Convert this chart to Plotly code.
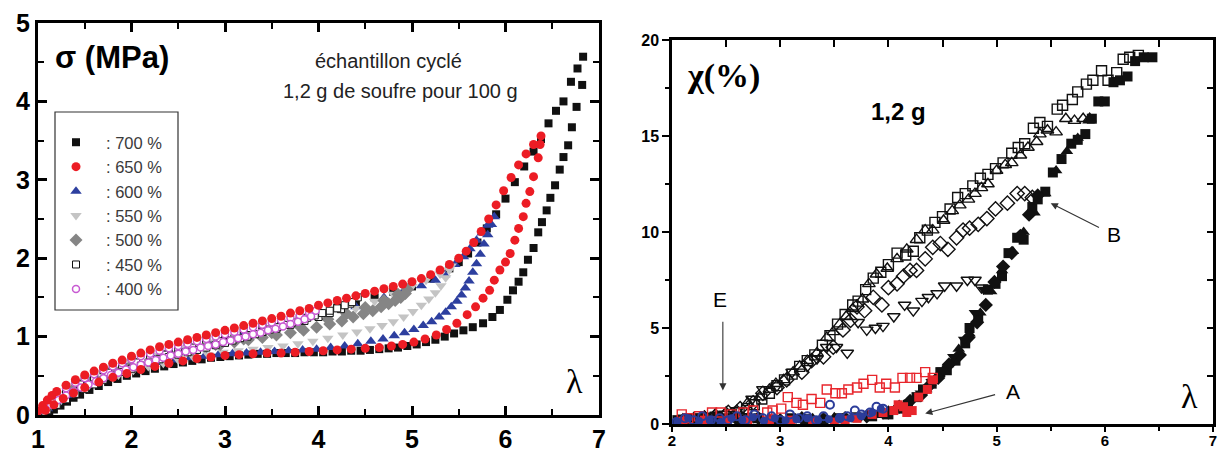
import plotly.graph_objects as go

W, H = 1221, 453

# ---------------- LEFT PANEL DATA (lambda, sigma MPa) ----------------
lam_700_up = [1.0,1.1,1.2,1.3,1.4,1.5,1.6,1.7,1.8,1.9,2.0,2.2,2.4,2.6,2.8,3.0,3.2,3.4,3.6,3.8,4.0,4.2,4.4,4.6,4.8,5.0,5.2,5.4,5.5,5.6,5.7,5.8,5.9,6.0,6.1,6.2,6.3,6.38,6.46,6.54,6.62,6.7,6.77,6.83]
sig_700_up = [0.0,0.14,0.25,0.33,0.4,0.46,0.52,0.57,0.62,0.66,0.7,0.78,0.85,0.91,0.97,1.02,1.07,1.12,1.18,1.24,1.3,1.37,1.44,1.5,1.57,1.64,1.74,1.87,1.95,2.06,2.2,2.38,2.56,2.76,2.97,3.17,3.36,3.52,3.72,3.88,4.0,4.25,4.42,4.57]
lam_700_dn = [6.82,6.76,6.71,6.67,6.62,6.58,6.53,6.48,6.44,6.39,6.35,6.3,6.24,6.19,6.14,6.08,6.02,5.94,5.86,5.76,5.65,5.55,5.45,5.35,5.25,5.15,5.05,4.95,4.85,4.75,4.65,4.55,4.45,4.35,4.25,4.15,4.05,3.95,3.85,3.75,3.65,3.55,3.45,3.35,3.25,3.15,3.05,2.95,2.85,2.75,2.65,2.55,2.45,2.35,2.25,2.15,2.05,1.95,1.85,1.75,1.65,1.55,1.45,1.38,1.31,1.24,1.17,1.12]
sig_700_dn = [4.21,3.93,3.67,3.44,3.29,3.13,2.93,2.77,2.61,2.46,2.33,2.13,1.98,1.82,1.7,1.59,1.47,1.34,1.25,1.17,1.12,1.08,1.04,1.0,0.96,0.93,0.9,0.88,0.86,0.85,0.84,0.83,0.82,0.82,0.81,0.81,0.8,0.8,0.8,0.79,0.79,0.79,0.78,0.78,0.77,0.76,0.75,0.74,0.73,0.71,0.69,0.67,0.65,0.62,0.59,0.56,0.53,0.5,0.46,0.42,0.37,0.32,0.26,0.22,0.17,0.12,0.07,0.03]

lam_650_up = [1.0,1.05,1.1,1.15,1.2,1.3,1.4,1.5,1.6,1.7,1.8,1.9,2.0,2.1,2.2,2.3,2.4,2.5,2.6,2.7,2.8,2.9,3.0,3.1,3.2,3.3,3.4,3.5,3.6,3.7,3.8,3.9,4.0,4.1,4.2,4.3,4.4,4.5,4.6,4.7,4.8,4.9,5.0,5.1,5.2,5.3,5.4,5.5,5.58,5.66,5.74,5.82,5.9,5.98,6.06,6.14,6.22,6.3,6.38]
sig_650_up = [0.05,0.12,0.19,0.25,0.3,0.38,0.45,0.51,0.56,0.61,0.66,0.7,0.75,0.79,0.83,0.87,0.9,0.93,0.96,0.99,1.02,1.05,1.08,1.11,1.14,1.17,1.2,1.23,1.26,1.3,1.33,1.36,1.4,1.43,1.46,1.49,1.52,1.55,1.58,1.61,1.64,1.67,1.7,1.74,1.79,1.85,1.92,2.0,2.09,2.2,2.34,2.5,2.68,2.86,3.03,3.19,3.33,3.45,3.56]
lam_650_dn = [6.37,6.35,6.3,6.26,6.22,6.19,6.14,6.1,6.05,6.0,5.94,5.88,5.83,5.76,5.68,5.59,5.48,5.37,5.26,5.14,5.02,4.9,4.78,4.65,4.5,4.35,4.2,4.05,3.9,3.75,3.6,3.45,3.3,3.15,3.0,2.85,2.7,2.55,2.4,2.25,2.1,1.95,1.8,1.65,1.5,1.38,1.27,1.17,1.08]
sig_650_dn = [3.45,3.28,3.04,2.85,2.7,2.53,2.38,2.23,2.06,1.95,1.85,1.72,1.59,1.49,1.38,1.28,1.17,1.09,1.02,0.97,0.93,0.9,0.88,0.86,0.85,0.84,0.83,0.82,0.81,0.8,0.79,0.79,0.78,0.77,0.76,0.74,0.72,0.69,0.66,0.62,0.58,0.53,0.48,0.42,0.35,0.28,0.21,0.13,0.06]

lam_600_up = [1.0,1.2,1.4,1.6,1.8,2.0,2.3,2.6,2.9,3.2,3.5,3.8,4.1,4.4,4.7,4.9,5.1,5.25,5.35,5.46,5.55,5.62,5.69,5.75,5.81,5.88]
sig_600_up = [0.02,0.24,0.38,0.5,0.59,0.68,0.78,0.87,0.95,1.03,1.11,1.19,1.29,1.38,1.5,1.57,1.65,1.72,1.79,1.92,2.02,2.12,2.23,2.32,2.42,2.53]
lam_600_dn = [5.85,5.81,5.77,5.73,5.69,5.65,5.61,5.57,5.53,5.48,5.42,5.36,5.29,5.21,5.12,5.02,4.92,4.81,4.69,4.56,4.42,4.28,4.13,3.98,3.83,3.68,3.53,3.38,3.23,3.08,2.93,2.78,2.63,2.48,2.33,2.18,2.03,1.88,1.73,1.58,1.44,1.32,1.2,1.1]
sig_600_dn = [2.43,2.3,2.18,2.05,1.93,1.82,1.71,1.62,1.53,1.45,1.38,1.31,1.25,1.19,1.14,1.09,1.05,1.01,0.97,0.94,0.91,0.88,0.86,0.84,0.83,0.82,0.81,0.8,0.79,0.78,0.77,0.75,0.73,0.7,0.67,0.63,0.59,0.54,0.48,0.41,0.33,0.25,0.16,0.08]

lam_550_up = [1.0,1.2,1.4,1.6,1.8,2.0,2.3,2.6,2.9,3.2,3.5,3.8,4.1,4.4,4.6,4.8,5.0,5.15,5.3,5.42]
sig_550_up = [0.02,0.22,0.37,0.48,0.57,0.66,0.76,0.85,0.93,1.0,1.08,1.16,1.26,1.36,1.45,1.54,1.64,1.72,1.8,1.9]
lam_550_dn = [5.4,5.36,5.31,5.25,5.18,5.1,5.01,4.91,4.8,4.68,4.55,4.41,4.26,4.1,3.94,3.78,3.62,3.46,3.3,3.14,2.98,2.82,2.66,2.5,2.34,2.18,2.02,1.86,1.7,1.54,1.38,1.24,1.12]
sig_550_dn = [1.85,1.75,1.65,1.56,1.48,1.4,1.32,1.25,1.19,1.14,1.1,1.06,1.02,0.98,0.94,0.91,0.88,0.86,0.84,0.82,0.8,0.77,0.74,0.7,0.66,0.62,0.57,0.51,0.45,0.37,0.28,0.18,0.09]

lam_500_up = [1.0,1.2,1.4,1.6,1.8,2.0,2.3,2.6,2.9,3.2,3.5,3.8,4.1,4.3,4.5,4.7,4.85,4.95]
sig_500_up = [0.02,0.2,0.35,0.46,0.55,0.63,0.73,0.82,0.9,0.97,1.05,1.13,1.22,1.29,1.37,1.46,1.54,1.6]
lam_500_dn = [4.93,4.88,4.82,4.75,4.67,4.58,4.48,4.37,4.25,4.12,3.98,3.84,3.7,3.55,3.4,3.25,3.1,2.95,2.8,2.65,2.5,2.35,2.2,2.05,1.9,1.75,1.6,1.45,1.32,1.2,1.1]
sig_500_dn = [1.55,1.5,1.46,1.42,1.38,1.33,1.29,1.25,1.2,1.16,1.12,1.08,1.05,1.02,0.99,0.96,0.93,0.9,0.87,0.83,0.79,0.75,0.7,0.65,0.59,0.53,0.46,0.38,0.29,0.19,0.1]

lam_450_up = [1.0,1.15,1.3,1.45,1.6,1.75,1.9,2.05,2.2,2.35,2.5,2.65,2.8,2.95,3.1,3.25,3.4,3.55,3.7,3.85,4.0,4.12,4.24,4.34,4.42]
sig_450_up = [0.02,0.16,0.29,0.39,0.47,0.54,0.61,0.67,0.72,0.77,0.82,0.86,0.9,0.94,0.98,1.02,1.06,1.1,1.15,1.2,1.25,1.3,1.35,1.42,1.5]
lam_450_dn = [4.36,4.28,4.2,4.12,4.04,3.96,3.88,3.8,3.72,3.64,3.56,3.48,3.4,3.32,3.24,3.16,3.08,3.0,2.9,2.8,2.7,2.6,2.5,2.4,2.3,2.2,2.1,2.0,1.9,1.8,1.7,1.6,1.5,1.4,1.3,1.2,1.1]
sig_450_dn = [1.44,1.4,1.36,1.33,1.3,1.27,1.24,1.21,1.18,1.15,1.12,1.09,1.06,1.03,1.0,0.98,0.95,0.92,0.89,0.86,0.83,0.8,0.77,0.74,0.71,0.67,0.63,0.59,0.55,0.5,0.45,0.39,0.33,0.27,0.2,0.13,0.06]

lam_400_up = [1.0,1.1,1.2,1.3,1.4,1.5,1.6,1.7,1.8,1.9,2.0,2.1,2.2,2.3,2.4,2.5,2.6,2.7,2.8,2.9,3.0,3.1,3.2,3.3,3.4,3.5,3.6,3.7,3.8,3.9,3.97]
sig_400_up = [0.04,0.16,0.26,0.34,0.41,0.47,0.52,0.57,0.62,0.66,0.71,0.75,0.78,0.82,0.85,0.88,0.91,0.94,0.97,1.0,1.03,1.06,1.09,1.12,1.15,1.18,1.21,1.24,1.27,1.3,1.33]
lam_400_dn = [3.92,3.85,3.78,3.7,3.62,3.54,3.46,3.38,3.3,3.22,3.14,3.06,2.98,2.9,2.82,2.74,2.66,2.58,2.5,2.42,2.34,2.26,2.18,2.1,2.02,1.94,1.86,1.78,1.7,1.62,1.54,1.46,1.38,1.3,1.22,1.14,1.06]
sig_400_dn = [1.26,1.22,1.19,1.16,1.13,1.1,1.08,1.05,1.03,1.0,0.98,0.95,0.93,0.9,0.88,0.86,0.83,0.81,0.78,0.76,0.73,0.7,0.67,0.64,0.61,0.58,0.54,0.51,0.47,0.43,0.39,0.35,0.3,0.25,0.19,0.13,0.07]

legend_names = [": 700 %", ": 650 %", ": 600 %", ": 550 %", ": 500 %", ": 450 %", ": 400 %"]

# ---------------- RIGHT PANEL DATA (lambda, chi %) ----------------
sq_load_lam = [2.05,2.2,2.35,2.5,2.65,2.8,2.95,3.1,3.25,3.4,3.55,3.7,3.85,4.0,4.1,4.18,4.26,4.32,4.4,4.48,4.54,4.62,4.71,4.75,4.83,4.92,4.99,5.05,5.11,5.19,5.25,5.33,5.38,5.45,5.52,5.6,5.69,5.75,5.82,5.88,5.94,6.0,6.08,6.14,6.21,6.28,6.36,6.44]
sq_load_chi = [0.2,0.3,0.2,0.3,0.25,0.3,0.2,0.3,0.25,0.2,0.3,0.35,0.4,0.5,0.8,1.0,1.4,1.8,2.1,2.7,2.8,3.3,4.2,5.0,5.6,7.0,7.3,7.7,8.9,9.7,9.6,11.3,11.7,12.1,13.1,13.8,14.6,14.8,15.1,15.9,16.8,16.8,17.8,17.9,18.1,18.9,19.1,19.1]
sq_unl_lam = [6.31,6.23,6.17,6.11,6.03,5.97,5.89,5.83,5.75,5.7,5.61,5.56,5.47,5.4,5.34,5.26,5.2,5.14,5.06,4.99,4.92,4.85,4.78,4.71,4.64,4.57,4.5,4.43,4.36,4.29,4.23,4.16,4.08,4.0,3.93,3.86,3.79,3.72,3.67,3.6,3.53,3.46,3.39,3.32,3.25,3.18,3.11,3.04,2.97,2.9,2.83,2.76,2.69,2.62,2.55,2.48,2.4,2.3,2.2,2.1]
sq_unl_chi = [19.2,19.1,19.0,18.3,17.9,18.4,17.9,17.7,17.3,16.9,16.6,16.4,15.5,15.7,15.4,14.6,14.4,14.1,13.6,13.3,13.0,12.8,12.4,12.0,11.8,11.2,10.8,10.5,10.1,9.7,9.0,8.8,8.9,8.3,7.9,7.6,7.0,6.4,6.2,5.7,5.2,4.6,4.1,3.6,3.3,3.0,2.6,2.3,2.0,1.6,1.3,1.0,0.8,0.6,0.5,0.4,0.35,0.3,0.25,0.2]

tri_load_lam = [2.1,2.3,2.5,2.7,2.9,3.1,3.3,3.5,3.7,3.9,4.05,4.15,4.25,4.35,4.45,4.55,4.65,4.75,4.85,4.95,5.05,5.15,5.25,5.35,5.45,5.55,5.65,5.75,5.85]
tri_load_chi = [0.3,0.4,0.3,0.35,0.3,0.25,0.3,0.35,0.3,0.45,0.7,1.0,1.3,1.8,2.5,3.1,3.9,4.7,5.8,6.9,8.0,9.0,10.0,11.0,12.0,13.2,14.2,14.9,15.8]
tri_unl_lam = [5.86,5.8,5.72,5.64,5.55,5.47,5.4,5.37,5.29,5.22,5.14,5.08,5.0,4.92,4.86,4.8,4.74,4.66,4.59,4.51,4.41,4.34,4.26,4.17,4.08,3.99,3.89,3.82,3.76,3.67,3.61,3.55,3.49,3.43,3.34,3.25,3.18,3.12,3.03,2.96,2.9,2.81,2.7,2.6,2.5,2.4,2.3,2.2]
tri_unl_chi = [15.9,15.9,15.8,15.9,15.2,15.3,15.1,14.7,14.4,14.0,13.6,13.5,13.2,12.5,12.3,12.0,11.7,11.4,11.1,10.6,10.1,10.1,9.6,9.1,8.6,8.1,7.8,7.3,6.5,6.0,5.6,5.2,4.8,4.5,3.7,3.3,3.0,2.7,2.3,2.1,1.8,1.4,1.1,0.7,0.6,0.5,0.4,0.3]

dia_load_lam = [2.2,2.4,2.6,2.8,3.0,3.2,3.4,3.6,3.8,4.0,4.1,4.2,4.3,4.38,4.46,4.56,4.66,4.74,4.82,4.9,4.98,5.06,5.14,5.22,5.3,5.38]
dia_load_chi = [0.2,0.3,0.25,0.3,0.2,0.3,0.25,0.3,0.4,0.6,0.9,1.2,1.5,2.0,2.4,3.1,3.6,4.5,5.3,6.2,7.4,8.2,8.9,9.8,10.9,11.9]
dia_unl_lam = [5.33,5.26,5.19,5.1,4.99,4.91,4.83,4.75,4.69,4.63,4.55,4.48,4.41,4.34,4.26,4.2,4.14,4.08,4.0,3.94,3.86,3.78,3.71,3.65,3.58,3.49,3.4,3.29,3.2,3.06,2.97,2.84,2.75,2.63,2.52,2.4,2.3]
dia_unl_chi = [11.8,12.0,12.0,11.5,11.2,10.7,10.4,10.2,10.1,9.7,9.1,9.4,9.2,8.6,8.0,8.0,7.7,7.3,7.1,6.2,6.6,5.9,6.1,5.4,4.9,4.0,3.5,3.3,2.7,2.3,1.9,1.6,1.1,0.8,0.6,0.4,0.3]

tdn_load_lam = [2.15,2.35,2.55,2.75,2.95,3.15,3.35,3.55,3.75,3.95,4.08,4.2,4.3,4.4,4.5,4.6,4.7,4.8,4.88]
tdn_load_chi = [0.3,0.2,0.35,0.3,0.25,0.3,0.2,0.35,0.4,0.5,0.8,1.1,1.6,2.2,2.8,3.5,4.4,5.8,7.0]
tdn_unl_lam = [4.86,4.8,4.73,4.63,4.52,4.45,4.37,4.31,4.23,4.15,4.05,3.95,3.88,3.8,3.72,3.62,3.52,3.43,3.34,3.25,3.11,2.97,2.84,2.74,2.6,2.5,2.4]
tdn_unl_chi = [7.1,7.5,7.5,7.2,7.2,6.8,6.6,6.4,5.9,6.2,5.6,5.1,5.0,4.9,5.3,3.7,4.0,4.0,3.4,3.0,2.7,2.0,1.8,1.3,0.7,0.5,0.4]

red_load_lam = [2.1,2.3,2.5,2.7,2.9,3.1,3.3,3.5,3.6,3.71,3.85,3.95,4.05,4.09,4.14,4.17,4.22,4.28,4.36,4.41]
red_load_chi = [0.15,0.2,0.1,0.2,0.15,0.2,0.15,0.1,0.2,0.3,0.5,0.6,0.7,1.0,0.9,0.6,0.7,1.4,1.8,2.3]
red_unl_lam = [4.41,4.34,4.26,4.2,4.13,4.06,3.98,3.92,3.85,3.77,3.71,3.63,3.57,3.51,3.43,3.37,3.29,3.21,3.15,3.07,3.01,2.93,2.88,2.75,2.66,2.55,2.45,2.37,2.25,2.15,2.09]
red_unl_chi = [2.4,2.7,2.4,2.4,2.4,1.9,2.1,1.9,2.3,2.1,1.9,1.8,1.6,1.6,1.8,1.1,1.3,1.0,1.1,1.4,0.8,0.7,0.6,0.7,0.6,0.5,0.6,0.6,0.4,0.3,0.5]

blue_load_lam = [2.05,2.15,2.25,2.35,2.45,2.55,2.65,2.75,2.85,2.95,3.05,3.15,3.25,3.35,3.45,3.55,3.65,3.75,3.85,3.93]
blue_load_chi = [0.1,0.3,0.15,0.2,0.1,0.3,0.2,0.35,0.15,0.3,0.2,0.25,0.3,0.2,0.25,0.35,0.3,0.4,0.6,0.8]
blue_unl_lam = [3.95,3.89,3.83,3.75,3.69,3.62,3.55,3.46,3.4,3.33,3.25,3.17,3.09,3.0,2.92,2.84,2.76,2.68,2.6,2.52,2.44,2.36,2.28,2.2,2.12,2.04]
blue_unl_chi = [0.8,0.9,0.6,0.5,0.7,0.4,0.3,1.0,0.4,0.2,0.4,0.3,0.5,0.2,0.4,0.3,0.5,0.2,0.4,0.2,0.3,0.2,0.4,0.2,0.3,0.1]

# ---------------- FIGURE ----------------
def px_x(p):
    return p / W

def px_y(p):
    return 1 - p / H

BLACK = "#111111"
RED = "#ec1c24"
BLUE = "#2d3f9f"
LGRAY = "#c4c4c4"
DGRAY = "#858585"
PINK = "#c85ad2"
RRED = "#e8262c"
RBLUE = "#2b3c9a"

fig = go.Figure()

left = [
    (legend_names[0], lam_700_up + lam_700_dn, sig_700_up + sig_700_dn, "square", BLACK, 8, BLACK, 0, 1),
    (legend_names[2], lam_600_up + lam_600_dn, sig_600_up + sig_600_dn, "triangle-up", BLUE, 10, BLUE, 0, 3),
    (legend_names[3], lam_550_up + lam_550_dn, sig_550_up + sig_550_dn, "triangle-down", LGRAY, 10, LGRAY, 0, 4),
    (legend_names[4], lam_500_up + lam_500_dn, sig_500_up + sig_500_dn, "diamond", DGRAY, 10, DGRAY, 0, 5),
    (legend_names[5], lam_450_up + lam_450_dn, sig_450_up + sig_450_dn, "square", "white", 7, BLACK, 1, 6),
    (legend_names[6], lam_400_up + lam_400_dn, sig_400_up + sig_400_dn, "circle", "white", 7, PINK, 1.5, 7),
    (legend_names[1], lam_650_up + lam_650_dn, sig_650_up + sig_650_dn, "circle", RED, 9, RED, 0, 2),
]
for name, xs, ys, sym, col, size, lcol, lw, rank in left:
    fig.add_trace(go.Scatter(
        x=xs, y=ys, mode="markers", name=name, legendrank=rank,
        marker=dict(symbol=sym, color=col, size=size, line=dict(color=lcol, width=lw)),
        xaxis="x", yaxis="y"))

right = [
    (sq_load_lam, sq_load_chi, "square", 10, BLACK, 0),
    (tri_load_lam, tri_load_chi, "triangle-up", 11, BLACK, 0),
    (dia_load_lam, dia_load_chi, "diamond", 11, BLACK, 0),
    (tdn_load_lam, tdn_load_chi, "triangle-down", 11, BLACK, 0),
    (sq_unl_lam, sq_unl_chi, "square-open", 10, BLACK, 1.4),
    (tri_unl_lam, tri_unl_chi, "triangle-up-open", 11, BLACK, 1.4),
    (dia_unl_lam, dia_unl_chi, "diamond-open", 11, BLACK, 1.4),
    (tdn_unl_lam, tdn_unl_chi, "triangle-down-open", 11, BLACK, 1.4),
    (red_unl_lam, red_unl_chi, "square-open", 9, RRED, 1.4),
    (red_load_lam, red_load_chi, "square", 9, RRED, 0),
    (blue_load_lam, blue_load_chi, "circle", 8, RBLUE, 0),
    (blue_unl_lam, blue_unl_chi, "circle-open", 8, RBLUE, 2),
]
for xs, ys, sym, size, col, lw in right:
    fig.add_trace(go.Scatter(
        x=xs, y=ys, mode="markers", showlegend=False,
        marker=dict(symbol=sym, color=col, size=size, line=dict(color=col, width=lw)),
        xaxis="x2", yaxis="y2"))

# dummy trace so the inward tick overlay axes of the right panel are drawn
fig.add_trace(go.Scatter(x=[None], y=[None], mode="markers", showlegend=False,
                         xaxis="x3", yaxis="y3"))

L_dom_x = [px_x(38), px_x(599)]
L_dom_y = [px_y(415), px_y(23)]
R_dom_x = [px_x(672), px_x(1213)]
R_dom_y = [px_y(424), px_y(40)]

bold_big = dict(family="Liberation Sans, Arial", size=25, color="black", weight="bold")
bold_small = dict(family="Liberation Sans, Arial", size=15, color="black", weight="bold")

fig.update_layout(
    width=W, height=H,
    margin=dict(l=0, r=0, t=0, b=0, autoexpand=False),
    paper_bgcolor="white", plot_bgcolor="white",
    showlegend=True,
    legend=dict(x=px_x(46), y=px_y(125), xanchor="left", yanchor="top",
                bgcolor="rgba(0,0,0,0)", borderwidth=0,
                font=dict(family="Liberation Sans, Arial", size=16.5, color="#3a3a3a"),
                itemsizing="trace", itemwidth=50, tracegroupgap=0),
    xaxis=dict(domain=L_dom_x, range=[1, 7], tick0=1, dtick=1, ticks="inside", ticklen=9,
               tickwidth=2.5, tickcolor="black", showline=True, linewidth=3, linecolor="black",
               mirror="ticks", showgrid=False, zeroline=False, tickfont=bold_big,
               ticklabelstandoff=0, automargin=False,
               minor=dict(dtick=0.5, ticks="inside", ticklen=6, tickwidth=2, tickcolor="black"),
               anchor="y"),
    yaxis=dict(domain=L_dom_y, range=[0, 5], tick0=0, dtick=1, ticks="inside", ticklen=9,
               tickwidth=2.5, tickcolor="black", showline=True, linewidth=3, linecolor="black",
               mirror="ticks", showgrid=False, zeroline=False, tickfont=bold_big, automargin=False,
               minor=dict(dtick=0.5, ticks="inside", ticklen=6, tickwidth=2, tickcolor="black"),
               anchor="x"),
    xaxis2=dict(domain=R_dom_x, range=[2, 7], tick0=2, dtick=1, ticks="outside", ticklen=5,
                tickwidth=2, tickcolor="black", showline=True, linewidth=2.5, linecolor="black",
                mirror=True, showgrid=False, zeroline=False, tickfont=bold_small, automargin=False,
                ticklabelstandoff=-4,
                minor=dict(dtick=0.5, ticks="outside", ticklen=4, tickwidth=2, tickcolor="black"),
                anchor="y2"),
    yaxis2=dict(domain=R_dom_y, range=[0, 20], tick0=0, dtick=5, ticks="outside", ticklen=7,
                tickwidth=2, tickcolor="black", showline=True, linewidth=2.5, linecolor="black",
                mirror=True, showgrid=False, zeroline=False,
                tickfont=dict(family="Liberation Sans, Arial", size=16, color="black", weight="bold"),
                automargin=False,
                minor=dict(dtick=2.5, ticks="outside", ticklen=4, tickwidth=2, tickcolor="black"),
                anchor="x2"),
    xaxis3=dict(overlaying="x2", side="top", range=[2, 7], tick0=2, dtick=0.5, ticks="inside",
                ticklen=7, tickwidth=2, tickcolor="black", showticklabels=False, showline=False,
                showgrid=False, zeroline=False, anchor="y3", automargin=False),
    yaxis3=dict(overlaying="y2", side="right", range=[0, 20], tick0=0, dtick=2.5, ticks="inside",
                ticklen=6, tickwidth=2, tickcolor="black", showticklabels=False, showline=False,
                showgrid=False, zeroline=False, anchor="x3", automargin=False),
)

# legend frame
fig.add_shape(type="rect", xref="paper", yref="paper",
              x0=px_x(55), x1=px_x(178), y0=px_y(310), y1=px_y(112),
              line=dict(color="#333333", width=1.2), fillcolor="rgba(0,0,0,0)")

ann = []
ann.append(dict(text="σ (MPa)", x=px_x(53), y=px_y(58), xanchor="left", yanchor="middle",
                font=dict(family="Liberation Sans, Arial", size=31, color="black", weight="bold")))
ann.append(dict(text="échantillon cyclé", x=px_x(388), y=px_y(61), xanchor="center", yanchor="middle",
                font=dict(family="Liberation Sans, Arial", size=20, color="#222")))
ann.append(dict(text="1,2 g de soufre pour 100 g", x=px_x(400), y=px_y(91), xanchor="center", yanchor="middle",
                font=dict(family="Liberation Sans, Arial", size=20, color="#222")))
ann.append(dict(text="λ", x=px_x(574), y=px_y(381), xanchor="center", yanchor="middle",
                font=dict(family="Liberation Serif, Times New Roman", size=34, color="black")))
ann.append(dict(text="χ(%)", x=px_x(685), y=px_y(76), xanchor="left", yanchor="middle",
                font=dict(family="Liberation Serif, Times New Roman", size=34, color="black", weight="bold")))
ann.append(dict(text="1,2 g", x=px_x(898), y=px_y(111), xanchor="center", yanchor="middle",
                font=dict(family="Liberation Sans, Arial", size=24, color="black", weight="bold")))
ann.append(dict(text="λ", x=px_x(1189), y=px_y(396), xanchor="center", yanchor="middle",
                font=dict(family="Liberation Serif, Times New Roman", size=34, color="black")))
for t, xx, yy in [("E", 720, 299), ("A", 1013, 391), ("B", 1114, 234)]:
    ann.append(dict(text=t, x=px_x(xx), y=px_y(yy), xanchor="center", yanchor="middle",
                    font=dict(family="Liberation Sans, Arial", size=21, color="black")))
for a in ann:
    a.update(xref="paper", yref="paper", showarrow=False)

arrows = [((2.47, 5.4), (2.47, 1.75)), ((5.0, 1.55), (4.34, 0.55)), ((5.96, 10.2), (5.5, 11.5))]
for (tx, ty), (hx, hy) in arrows:
    ann.append(dict(text="", x=hx, y=hy, ax=tx, ay=ty, xref="x2", yref="y2", axref="x2", ayref="y2",
                    showarrow=True, arrowhead=2, arrowsize=1.3, arrowwidth=1.1, arrowcolor="#333"))

fig.update_layout(annotations=ann)

fig.write_html("out.html", config={"displayModeBar": False},
               post_script="document.body.style.margin='0';document.body.style.overflow='hidden';")
